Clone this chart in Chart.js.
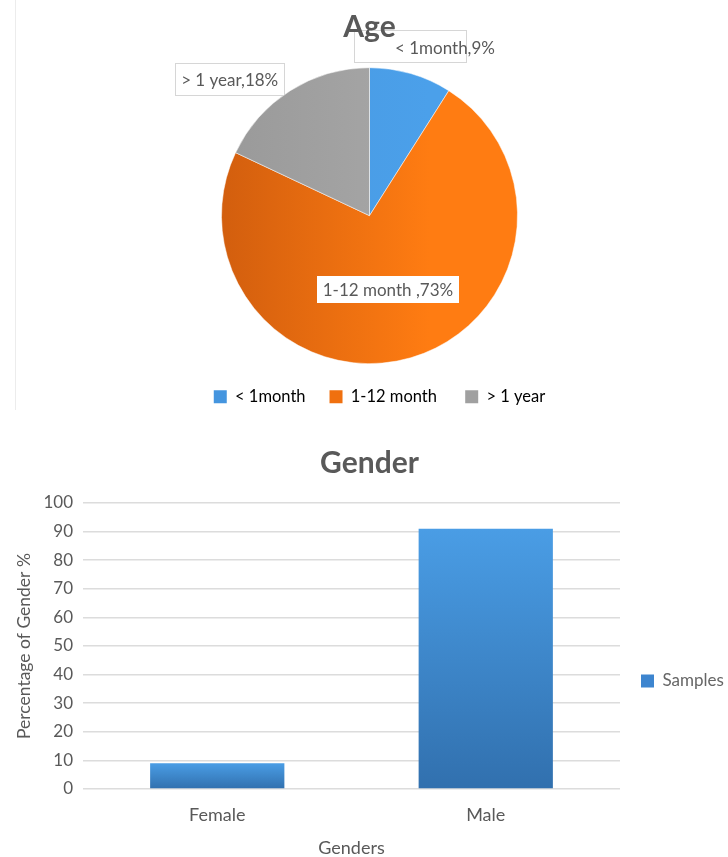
<!DOCTYPE html>
<html>
<head>
<meta charset="utf-8">
<script src="https://cdn.jsdelivr.net/npm/chart.js@4.4.1/dist/chart.umd.min.js"></script>
<style>
  body { margin: 0; background: #fff; }
  #ageBox { position: relative; width: 728px; height: 415px; margin-bottom: 10px; }
  #ageBox::before { content: ''; position: absolute; left: 15px; top: 0; height: 410px; border-left: 1px solid #ececec; }
  #genderBox { position: relative; width: 728px; height: 432px; }
</style>
</head>
<body>
<div id="ageBox"><canvas id="agePie"></canvas></div>
<div id="genderBox"><canvas id="genderBar"></canvas></div>
<script>
const ageLabels = ['< 1month', '1-12 month ', '> 1 year'];
const ageShares = [9, 73, 18];

const genderLabels = ['Female', 'Male'];
const genderShares = [9, 91];
const genderSeries = 'Samples';

const textGrey = '#595959';
const fontFamily = 'Lato, "Open Sans", sans-serif';

// slice label placement: fraction of the radius, angle shift in degrees,
// framed box, text shift inside the box (the first one spills past its frame)
const labelSpots = [[1.18, -2.8, true, 35], [0.515, 2.2, false, 0], [1.32, -13.3, true, 0]];

const sliceFills = [
  ['#4898e0', '#4ba0ea'],
  ['#d25e0e', '#ff7c12'],
  ['#999999', '#a8a8a8']
];
const legendFills = ['#4495df', '#f0700f', '#a0a0a0'];

const pieFill = (context) => {
  const chart = context.chart;
  const area = chart.chartArea;
  if (!area) return sliceFills[context.dataIndex][1];
  const cx = (area.left + area.right) / 2;
  const g = chart.ctx.createLinearGradient(cx - 150, 0, cx + 60, 0);
  g.addColorStop(0, sliceFills[context.dataIndex][0]);
  g.addColorStop(1, sliceFills[context.dataIndex][1]);
  return g;
};

const drawSliceLabel = (chart, i) => {
  const ctx = chart.ctx;
  const arc = chart.getDatasetMeta(0).data[i];
  if (!arc) return;
  const p = arc.getProps(['x', 'y', 'startAngle', 'endAngle', 'outerRadius'], true);
  const [dist, shift, framed, textDx] = labelSpots[i];
  const a = (p.startAngle + p.endAngle) / 2 + shift * Math.PI / 180;
  const lx = p.x + Math.cos(a) * p.outerRadius * dist;
  const ly = p.y + Math.sin(a) * p.outerRadius * dist;
  const text = ageLabels[i] + ',' + ageShares[i] + '%';
  ctx.save();
  ctx.font = '17px ' + fontFamily;
  ctx.textAlign = 'center';
  ctx.textBaseline = 'middle';
  const w = Math.round(ctx.measureText(text).width + 12);
  const h = framed ? 32 : 27;
  const bx = Math.round(lx - w / 2);
  const by = Math.round(ly - h / 2);
  ctx.fillStyle = '#ffffff';
  ctx.fillRect(bx, by, w, h);
  if (framed) {
    ctx.strokeStyle = '#d6d6d6';
    ctx.lineWidth = 1;
    ctx.strokeRect(bx + 0.5, by + 0.5, w, h);
  }
  ctx.fillStyle = textGrey;
  ctx.fillText(text, lx + textDx, ly + (textDx ? 3 : 1));
  ctx.restore();
};

// framed labels sit outside the pie, under the title; the inner one goes on top of the slices
const sliceLabels = {
  id: 'sliceLabels',
  afterLayout(chart) {
    chart.legend.left += 10;
    chart.legend.right += 10;
  },
  beforeDraw(chart) {
    labelSpots.forEach((spot, i) => { if (spot[2]) drawSliceLabel(chart, i); });
  },
  afterDatasetsDraw(chart) {
    labelSpots.forEach((spot, i) => { if (!spot[2]) drawSliceLabel(chart, i); });
  }
};

new Chart(document.getElementById('agePie'), {
  type: 'pie',
  data: {
    labels: ageLabels,
    datasets: [{
      data: ageShares,
      backgroundColor: pieFill,
      borderColor: '#ffffff',
      borderWidth: 0.5
    }]
  },
  options: {
    responsive: true,
    maintainAspectRatio: false,
    animation: false,
    radius: 148,
    layout: { padding: { left: 11, right: 0, top: 0, bottom: 0 } },
    plugins: {
      title: {
        display: true,
        text: 'Age',
        color: textGrey,
        font: { family: fontFamily, size: 30, weight: 'bold' },
        padding: { top: 9, bottom: 21.8 }
      },
      legend: {
        position: 'bottom',
        labels: {
          color: textGrey,
          font: { family: fontFamily, size: 16.5 },
          boxWidth: 13,
          boxHeight: 13,
          padding: 24,
          generateLabels: () => ageLabels.map((label, i) => ({
            text: label,
            fillStyle: legendFills[i],
            strokeStyle: 'transparent',
            lineWidth: 0,
            index: i
          }))
        }
      },
      tooltip: { enabled: false }
    }
  },
  plugins: [sliceLabels]
});

const barFill = (context) => {
  const chart = context.chart;
  const y = chart.scales.y;
  if (!chart.chartArea || !y) return '#3d85cf';
  const top = y.getPixelForValue(context.raw);
  const base = y.getPixelForValue(0);
  const g = chart.ctx.createLinearGradient(0, top, 0, base);
  g.addColorStop(0, '#4a9de5');
  g.addColorStop(1, '#3170ae');
  return g;
};

new Chart(document.getElementById('genderBar'), {
  type: 'bar',
  data: {
    labels: genderLabels,
    datasets: [{
      label: genderSeries,
      data: genderShares,
      backgroundColor: barFill,
      categoryPercentage: 0.5,
      barPercentage: 1
    }]
  },
  options: {
    responsive: true,
    maintainAspectRatio: false,
    animation: false,
    layout: { padding: { left: 11, right: 0, top: 0, bottom: 0 } },
    scales: {
      x: {
        grid: { display: false, drawTicks: false },
        border: { display: false },
        ticks: { color: textGrey, font: { family: fontFamily, size: 18 }, padding: 15 },
        title: {
          display: true,
          text: 'Genders',
          color: textGrey,
          font: { family: fontFamily, size: 18 },
          padding: { top: 0, bottom: -2 }
        },
        afterFit: (scale) => { scale.height = 68; }
      },
      y: {
        min: 0,
        max: 100,
        ticks: { stepSize: 10, color: textGrey, font: { family: fontFamily, size: 17 }, padding: 10 },
        grid: { color: '#dcdcdc', lineWidth: 1.5, drawTicks: false },
        border: { display: false },
        title: {
          display: true,
          text: 'Percentage of Gender %',
          color: textGrey,
          font: { family: fontFamily, size: 17.5 },
          padding: { top: 2.5, bottom: 0 }
        },
        afterFit: (scale) => { scale.width = 72; }
      }
    },
    plugins: {
      title: {
        display: true,
        text: 'Gender',
        color: textGrey,
        font: { family: fontFamily, size: 30, weight: 'bold' },
        padding: { top: 20.2, bottom: 21.8 }
      },
      legend: {
        position: 'right',
        maxWidth: 108,
        title: { display: true, text: ' ', font: { size: 10 }, padding: { top: 68, bottom: 0 } },
        labels: {
          color: textGrey,
          font: { family: fontFamily, size: 17 },
          boxWidth: 13,
          boxHeight: 13,
          padding: 21,
          generateLabels: () => [{
            text: genderSeries,
            fillStyle: '#3d85cf',
            strokeStyle: 'transparent',
            lineWidth: 0,
            textAlign: 'left',
            datasetIndex: 0
          }]
        }
      },
      tooltip: { enabled: false }
    }
  }
});
</script>
</body>
</html>
